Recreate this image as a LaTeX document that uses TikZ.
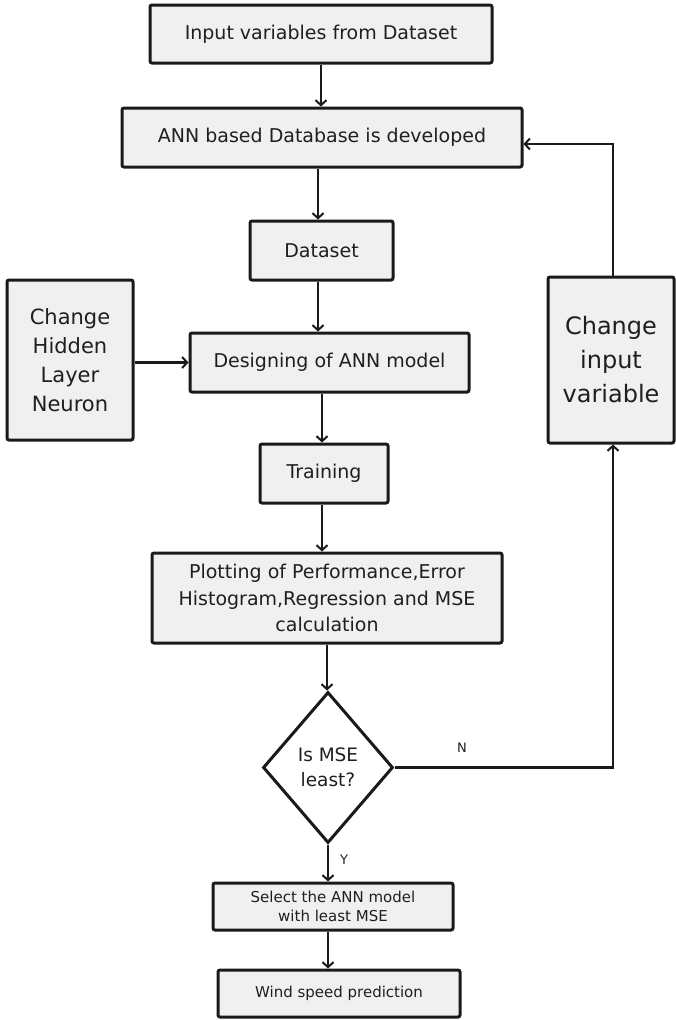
\documentclass[tikz,border=0pt]{standalone}
\usepackage{fontspec}
\setmainfont{DejaVu Sans}
\usetikzlibrary{arrows.meta,shapes.geometric}
\definecolor{boxfill}{HTML}{F0F0F0}
\definecolor{ink}{HTML}{1A1A1A}
\definecolor{txt}{HTML}{1F1F1F}
\tikzset{
  procbox/.style={draw=ink, line width=3pt, fill=boxfill, rounded corners=2pt,
    inner sep=0pt, align=center, text=txt},
  flow/.style={draw=ink, line width=2.2pt, -{Straight Barb[length=5pt,width=11pt,line width=2pt]}},
  tag/.style={text=txt, font=\fontsize{13}{15}\selectfont}
}
\begin{document}
\begin{tikzpicture}[x=1pt,y=-1pt]
\useasboundingbox (0,0) rectangle (676,1020);

\node[procbox, minimum width=342pt, minimum height=58pt, font=\fontsize{19}{22}\selectfont] (inp) at (321,34) {Input variables from Dataset};
\node[procbox, minimum width=400pt, minimum height=59pt, font=\fontsize{19}{22}\selectfont] (db) at (322,137.5) {ANN based Database is developed};
\node[procbox, minimum width=143pt, minimum height=59pt, font=\fontsize{19}{22}\selectfont] (ds) at (321.5,250.5) {Dataset};
\node[procbox, minimum width=279pt, minimum height=59pt, font=\fontsize{19}{22}\selectfont] (des) at (329.5,362.5) {Designing of ANN model};
\node[procbox, minimum width=126pt, minimum height=160pt, font=\fontsize{21}{29}\selectfont] (hid) at (70,360) {Change\\Hidden\\Layer\\Neuron};
\node[procbox, minimum width=128pt, minimum height=59pt, font=\fontsize{19}{22}\selectfont] (tr) at (324,473.5) {Training};
\node[procbox, minimum width=350pt, minimum height=90pt, font=\fontsize{19}{26.5}\selectfont] (plot) at (327,598) {Plotting of Performance,Error\\Histogram,Regression and MSE\\calculation};
\node[draw=ink, line width=3pt, diamond, fill=white, inner sep=0pt, minimum width=130pt, minimum height=151pt,
      align=center, text=txt, font=\fontsize{18.5}{25}\selectfont] (dec) at (328,767.5) {Is MSE\\least?};
\node[procbox, minimum width=240pt, minimum height=47pt, font=\fontsize{15}{19}\selectfont] (sel) at (333,906.5) {Select the ANN model\\with least MSE};
\node[procbox, minimum width=242pt, minimum height=47pt, font=\fontsize{15}{18}\selectfont] (wind) at (339,993.5) {Wind speed prediction};
\node[procbox, minimum width=126pt, minimum height=166pt, font=\fontsize{24}{34}\selectfont] (chg) at (611,360) {Change\\input\\variable};

% main flow
\draw[flow] (inp.south) -- (inp.south |- db.north);
\draw[flow] ([xshift=-4pt]db.south) -- ([xshift=-4pt]db.south |- ds.north);
\draw[flow] ([xshift=-3.5pt]ds.south) -- ([xshift=-3.5pt]ds.south |- des.north);
\draw[flow] ([xshift=-7.5pt]des.south) -- ([xshift=-7.5pt]des.south |- tr.north);
\draw[flow] ([xshift=-2pt]tr.south) -- ([xshift=-2pt]tr.south |- plot.north);
\draw[flow] (plot.south) -- (plot.south |- dec.north);
\draw[flow] (dec.south) -- (dec.south |- sel.north);
\draw[flow] ([xshift=-5pt]sel.south) -- ([xshift=-5pt]sel.south |- wind.north);

% side inputs and feedback loop
\draw[flow] (hid.east |- des.west) -- (des.west);
\draw[flow] (dec.east) -- ([xshift=2pt]chg.south |- dec.east) -- ([xshift=2pt]chg.south);
\draw[flow] ([xshift=2pt]chg.north) -- ([xshift=2pt]chg.north |- 0,144) -- (db.east |- 0,144);

\node[tag] (nlab) at (462,748) {N};
\node[tag] (ylab) at (344,860) {Y};
\end{tikzpicture}
\end{document}
